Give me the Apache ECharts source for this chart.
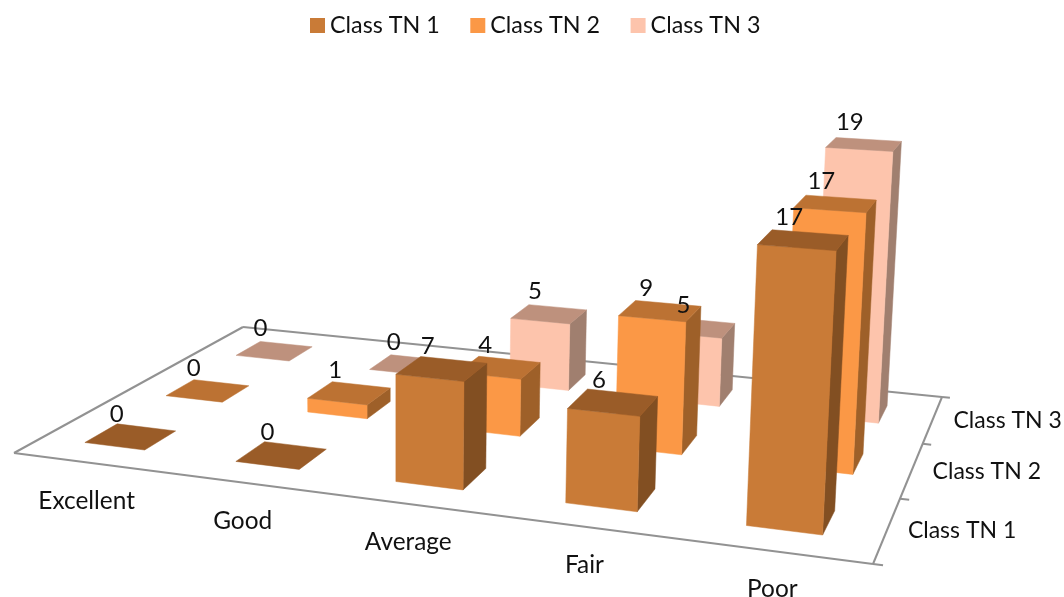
<!DOCTYPE html>
<html><head><meta charset="utf-8"><style>html,body{margin:0;padding:0;background:#fff}#c{width:1064px;height:597px}</style>
<script src="https://cdn.jsdelivr.net/npm/echarts@6/dist/echarts.min.js"></script></head>
<body><div id="c"></div><script>
const categories = ['Excellent','Good','Average','Fair','Poor'];
const classNames = ['Class TN 1','Class TN 2','Class TN 3'];
const tn1 = [0,0,7,6,17];
const tn2 = [0,1,4,9,17];
const tn3 = [0,0,5,5,19];
const seriesValues = [tn1,tn2,tn3];
const faceFront = ['#C97B37','#FB9846','#FDC4AC'];
const faceTop = ['#9A5C28','#BC7233','#BE917D'];
const faceSide = ['#824F22','#9E6029','#A07F6F'];
const FONT_CLASS = '23px Lato, Carlito, sans-serif';
const FONT_CAT = '24.4px Lato, Carlito, sans-serif';
const FONT_VALUE = '24px Lato, Carlito, sans-serif';
const VALUE_MAX = 20;

// Floor camera: maps (s along categories, t along classes, h value) to the page.
const Q = [[14,453],[873,564],[942,397],[243,327]];
const VP = [395,9500], K = -0.00161;
const cam = (() => {
  const [p0,p1,p2,p3]=Q;
  const dx1=p1[0]-p2[0],dx2=p3[0]-p2[0],sx=p0[0]-p1[0]+p2[0]-p3[0];
  const dy1=p1[1]-p2[1],dy2=p3[1]-p2[1],sy=p0[1]-p1[1]+p2[1]-p3[1];
  const den=dx1*dy2-dx2*dy1;
  const g=(sx*dy2-dx2*sy)/den,h=(dx1*sy-sx*dy1)/den;
  return {a:p1[0]-p0[0]+g*p1[0],b:p3[0]-p0[0]+h*p3[0],c:p0[0],d:p1[1]-p0[1]+g*p1[1],e:p3[1]-p0[1]+h*p3[1],f:p0[1],g,h};
})();
function proj(s,t,v){
  const X=cam.a*s+cam.b*t+cam.c+VP[0]*K*v, Y=cam.d*s+cam.e*t+cam.f+VP[1]*K*v, W=cam.g*s+cam.h*t+1+K*v;
  return [X/W,Y/W];
}
// Read category position and value through the hidden cartesian axes.
function toModel(api,params,cat,val){
  const cs=params.coordSys, pt=api.coord([cat,val]);
  return {s:(pt[0]-cs.x)/cs.width, v:(cs.y+cs.height-pt[1])/cs.height*VALUE_MAX, band:api.size([1,0])[0]/cs.width};
}
const BAR_LEFT=0.21, BAR_RIGHT=0.193, DEPTH=0.38;
function corners(m,j){
  return {s0:m.s-m.band*BAR_LEFT,s1:m.s+m.band*BAR_RIGHT,t0:(j+0.5-DEPTH/2)/3,t1:(j+0.5+DEPTH/2)/3};
}
function barSeries(j){
  return {type:'custom',name:classNames[j],coordinateSystem:'cartesian2d',z:10-j,clip:false,
    itemStyle:{color:faceFront[j]},
    encode:{x:0,y:1},
    data:categories.map((c,i)=>[c,seriesValues[j][i]]),
    renderItem(params,api){
      const val=api.value(1), m=toModel(api,params,api.value(0),val), r=corners(m,j), v=m.v;
      const poly=(pts,fill)=>({type:'polygon',shape:{points:pts},style:{fill,stroke:fill,lineWidth:0.5}});
      const fl=proj(r.s0,r.t0,0),fr=proj(r.s1,r.t0,0),br=proj(r.s1,r.t1,0);
      const tfl=proj(r.s0,r.t0,v),tfr=proj(r.s1,r.t0,v),tbr=proj(r.s1,r.t1,v),tbl=proj(r.s0,r.t1,v);
      const ch=[];
      if(val>0){ ch.push(poly([fr,br,tbr,tfr],faceSide[j])); ch.push(poly([fl,fr,tfr,tfl],faceFront[j])); }
      ch.push(poly([tfl,tfr,tbr,tbl],faceTop[j]));
      return {type:'group',children:ch};
    }};
}
function text(str,p,font,z){
  return {type:'text',z2:z||1,style:{text:str,x:p[0],y:p[1],font,fill:'#111',align:'center',verticalAlign:'middle'}};
}
const floorSeries={type:'custom',coordinateSystem:'cartesian2d',z:1,silent:true,clip:false,
  data:[[categories[0],0]],
  renderItem(){
    const line=(a,b)=>({type:'line',shape:{x1:a[0],y1:a[1],x2:b[0],y2:b[1]},style:{stroke:'#929292',lineWidth:2}});
    const ch=[line(proj(0,0,0),proj(1,0,0)),line(proj(1,0,0),proj(1,1,0)),line(proj(1,1,0),proj(0,1,0)),line(proj(0,1,0),proj(0,0,0))];
    classNames.concat('').forEach((_,j)=>ch.push(line(proj(1,j/3,0),proj(1.01,j/3,0))));
    return {type:'group',children:ch};
  }};
const catLabelSeries={type:'custom',coordinateSystem:'cartesian2d',z:2,silent:true,clip:false,
  encode:{x:0,y:1},
  data:categories.map(c=>[c,0]),
  renderItem(params,api){
    const m=toModel(api,params,api.value(0),0);
    const p=proj(m.s,0,0);
    return text(categories[params.dataIndex],[p[0]-2,p[1]+38],FONT_CAT);
  }};
const classLabelSeries={type:'custom',coordinateSystem:'cartesian2d',z:2,silent:true,clip:false,
  data:classNames.map(()=>[categories[0],0]),
  renderItem(params){
    const j=params.dataIndex, p=proj(1,(j+0.5)/3,0);
    return text(classNames[j],[p[0]+75,p[1]+1],FONT_CLASS);
  }};
const valueLabelSeries=seriesValues.map((vals,j)=>({type:'custom',coordinateSystem:'cartesian2d',z:20,silent:true,clip:false,
  encode:{x:0,y:1},
  data:categories.map((c,i)=>[c,vals[i]]),
  renderItem(params,api){
    const val=api.value(1), m=toModel(api,params,api.value(0),val), r=corners(m,j);
    const p=proj((r.s0+r.s1)/2,(r.t0+r.t1)/2,m.v);
    return text(String(val),[p[0]-14,p[1]-22.5],FONT_VALUE,5);
  }}));
const chart=echarts.init(document.getElementById('c'),null,{renderer:'canvas'});
chart.setOption({
  animation:false,backgroundColor:'#fff',
  legend:{data:classNames,top:9,left:305,icon:'rect',itemWidth:15,itemHeight:15,itemGap:30.5,
    textStyle:{fontFamily:'Lato',fontSize:23.3,color:'#111'}},
  grid:{left:0,right:0,top:0,bottom:0},
  xAxis:{type:'category',data:categories,show:false},
  yAxis:{type:'value',min:0,max:VALUE_MAX,show:false},
  series:[floorSeries,barSeries(2),barSeries(1),barSeries(0),catLabelSeries,classLabelSeries].concat(valueLabelSeries)
});
</script></body></html>
